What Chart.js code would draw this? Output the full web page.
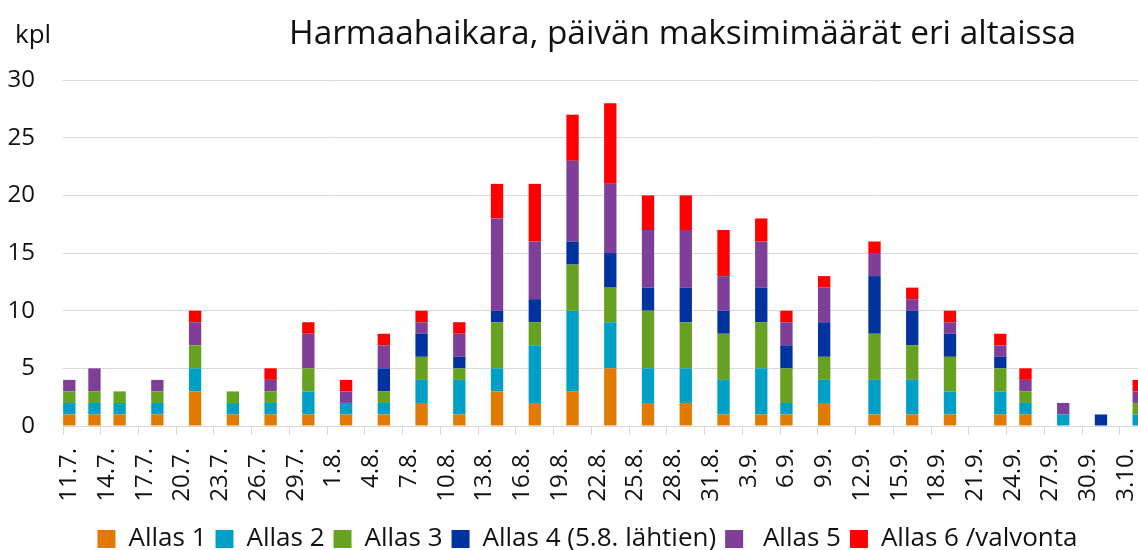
<!DOCTYPE html>
<html lang="fi">
<head>
  <meta charset="UTF-8" />
  <title>Harmaahaikara</title>
  <style>
    html, body {
      margin: 0;
      padding: 0;
      overflow: hidden;
      background: #fff;
    }
    #wrap {
      position: relative;
      width: 1145px;
      height: 550px;
    }
    #unit {
      position: absolute;
      left: 15px;
      top: 15px;
      font: 26px 'Open Sans', sans-serif;
      color: #111;
    }
  </style>
</head>
<body>
  <div id="wrap">
    <canvas id="chart"></canvas>
    <div id="unit">kpl</div>
  </div>

  <script src="https://cdn.jsdelivr.net/npm/chart.js@4"></script>
  <script>
    // one category per day, 11.7. - 4.10.
    const months = [[7, 11, 31], [8, 1, 31], [9, 1, 30], [10, 1, 4]];
    const days = [];
    months.forEach(([m, from, to]) => {
      for (let d = from; d <= to; d++) days.push(d + '.' + m + '.');
    });

    const tickLabels = ['11.7.', '14.7.', '17.7.', '20.7.', '23.7.', '26.7.', '29.7.', '1.8.', '4.8.', '7.8.',
      '10.8.', '13.8.', '16.8.', '19.8.', '22.8.', '25.8.', '28.8.', '31.8.', '3.9.', '6.9.', '9.9.',
      '12.9.', '15.9.', '18.9.', '21.9.', '24.9.', '27.9.', '30.9.', '3.10.'];

    // counting days
    const obsDays = ['11.7.', '13.7.', '15.7.', '18.7.', '21.7.', '24.7.', '27.7.', '30.7.', '2.8.', '5.8.',
      '8.8.', '11.8.', '14.8.', '17.8.', '20.8.', '23.8.', '26.8.', '29.8.', '1.9.', '4.9.',
      '6.9.', '9.9.', '13.9.', '16.9.', '19.9.', '23.9.', '25.9.', '28.9.', '1.10.', '4.10.'];

    const allas1 = [1, 1, 1, 1, 3, 1, 1, 1, 1, 1, 2, 1, 3, 2, 3, 5, 2, 2, 1, 1, 1, 2, 1, 1, 1, 1, 1, 0, 0, 0];
    const allas2 = [1, 1, 1, 1, 2, 1, 1, 2, 1, 1, 2, 3, 2, 5, 7, 4, 3, 3, 3, 4, 1, 2, 3, 3, 2, 2, 1, 1, 0, 1];
    const allas3 = [1, 1, 1, 1, 2, 1, 1, 2, 0, 1, 2, 1, 4, 2, 4, 3, 5, 4, 4, 4, 3, 2, 4, 3, 3, 2, 1, 0, 0, 1];
    const allas4 = [0, 0, 0, 0, 0, 0, 0, 0, 0, 2, 2, 1, 1, 2, 2, 3, 2, 3, 2, 3, 2, 3, 5, 3, 2, 1, 0, 0, 1, 0];
    const allas5 = [1, 2, 0, 1, 2, 0, 1, 3, 1, 2, 1, 2, 8, 5, 7, 6, 5, 5, 3, 4, 2, 3, 2, 1, 1, 1, 1, 1, 0, 1];
    const allas6 = [0, 0, 0, 0, 1, 0, 1, 1, 1, 1, 1, 1, 3, 5, 4, 7, 3, 3, 4, 2, 1, 1, 1, 1, 1, 1, 1, 0, 0, 1];

    const seriesNames = ['Allas 1', 'Allas 2', 'Allas 3', 'Allas 4 (5.8. lähtien)', ' Allas 5', 'Allas 6 /valvonta'];
    const seriesColors = ['#E07A00', '#00A0C6', '#67A121', '#0033A0', '#7F3F98', '#FF0000'];
    const seriesValues = [allas1, allas2, allas3, allas4, allas5, allas6];

    // spread the counts onto the daily axis (no bar on other days)
    function toDaily(values) {
      return days.map(d => {
        const i = obsDays.indexOf(d);
        return i < 0 ? 0 : values[i];
      });
    }

    const FONT = "'Open Sans', sans-serif";
    const GRID = '#D9D9D9';

    // title and legend sit off-centre in the original
    const nudge = {
      id: 'nudge',
      afterLayout(chart) {
        const t = chart.titleBlock, l = chart.legend;
        t.left += 110; t.right += 110;
        l.left += 15; l.right += 15; l.top += 12; l.bottom += 12;
      }
    };

    new Chart(document.getElementById('chart'), {
      type: 'bar',
      data: {
        labels: days,
        datasets: seriesNames.map((name, i) => ({
          label: name,
          data: toDaily(seriesValues[i]),
          backgroundColor: seriesColors[i],
          borderWidth: 0,
          barPercentage: 0.98,
          categoryPercentage: 1
        }))
      },
      options: {
        responsive: true,
        maintainAspectRatio: false,
        animation: false,
        layout: { padding: 0 },
        plugins: {
          title: {
            display: true,
            text: 'Harmaahaikara, päivän maksimimäärät eri altaissa',
            color: '#111',
            font: { family: FONT, size: 33.4, weight: 'normal' },
            padding: { top: 14, bottom: 26 }
          },
          legend: {
            position: 'bottom',
            labels: {
              color: '#111',
              font: { family: FONT, size: 26 },
              boxWidth: 18,
              boxHeight: 18,
              padding: 9
            }
          },
          tooltip: { enabled: false }
        },
        scales: {
          x: {
            stacked: true,
            grid: {
              offset: true,
              drawOnChartArea: false,
              tickLength: 9,
              color: ctx => tickLabels.includes(days[ctx.index]) ? GRID : 'rgba(0,0,0,0)',
              tickColor: ctx => tickLabels.includes(days[ctx.index]) ? GRID : 'rgba(0,0,0,0)'
            },
            border: { display: true, color: GRID, width: 1 },
            ticks: {
              autoSkip: false,
              minRotation: 90,
              maxRotation: 90,
              padding: 13,
              color: '#111',
              font: { family: FONT, size: 24 },
              callback: (v, i) => tickLabels.includes(days[i]) ? days[i] : ''
            },
            afterFit: s => {
              s.height = 79;
              s.paddingLeft = 0;
              s.paddingRight = 0;
            }
          },
          y: {
            stacked: true,
            min: 0,
            max: 30,
            grid: { color: GRID, drawTicks: false },
            border: { display: false },
            ticks: {
              stepSize: 5,
              padding: 28,
              color: '#111',
              font: { family: FONT, size: 24 }
            },
            afterFit: s => { s.width = 63; }
          }
        }
      },
      plugins: [nudge]
    });
  </script>
</body>
</html>
